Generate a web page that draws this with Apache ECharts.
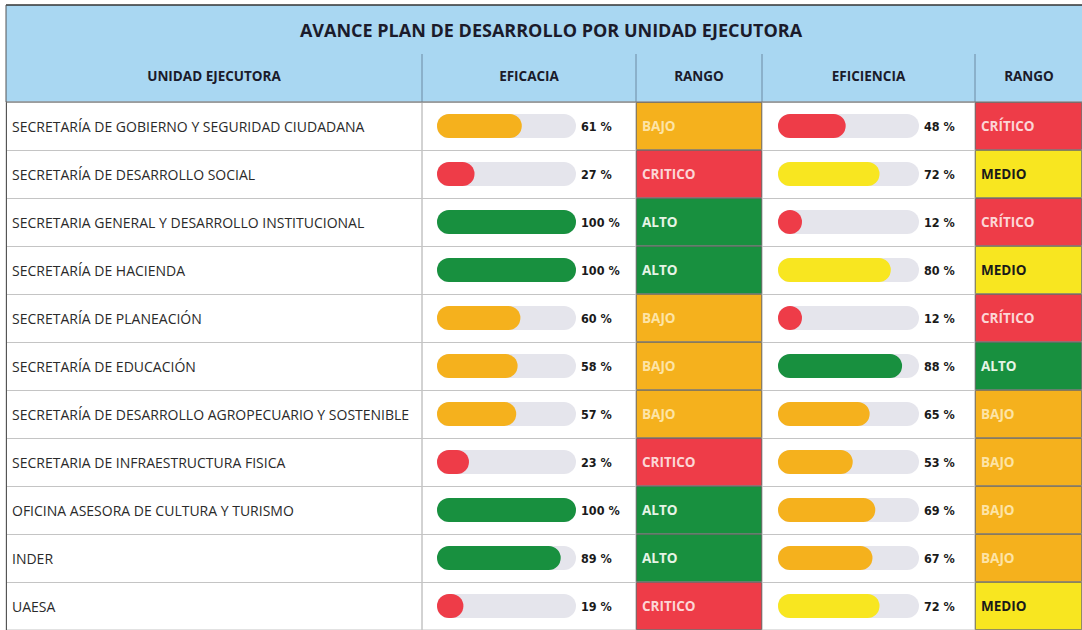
<!DOCTYPE html>
<html>
<head>
<meta charset="utf-8">
<script src="https://cdn.jsdelivr.net/npm/echarts@6/dist/echarts.min.js"></script>
<style>
html, body { margin: 0; padding: 0; background: #fff; }
#chart { width: 1082px; height: 630px; }
</style>
</head>
<body>
<div id="chart"></div>
<script>
var unidades = [
	"SECRETARÍA DE GOBIERNO Y SEGURIDAD CIUDADANA",
	"SECRETARÍA DE DESARROLLO SOCIAL",
	"SECRETARIA GENERAL Y DESARROLLO INSTITUCIONAL",
	"SECRETARÍA DE HACIENDA",
	"SECRETARÍA DE PLANEACIÓN",
	"SECRETARÍA DE EDUCACIÓN",
	"SECRETARÍA DE DESARROLLO AGROPECUARIO Y SOSTENIBLE",
	"SECRETARIA DE INFRAESTRUCTURA FISICA",
	"OFICINA ASESORA DE CULTURA Y TURISMO",
	"INDER",
	"UAESA"
];
var eficacia = [61, 27, 100, 100, 60, 58, 57, 23, 100, 89, 19];
var rangoEficacia = ["BAJO", "CRITICO", "ALTO", "ALTO", "BAJO", "BAJO", "BAJO", "CRITICO", "ALTO", "ALTO", "CRITICO"];
var eficiencia = [48, 72, 12, 80, 12, 88, 65, 53, 69, 67, 72];
var rangoEficiencia = ["CRÍTICO", "MEDIO", "CRÍTICO", "MEDIO", "CRÍTICO", "ALTO", "BAJO", "BAJO", "BAJO", "BAJO", "MEDIO"];
var columnas = ["UNIDAD EJECUTORA", "EFICACIA", "RANGO", "EFICIENCIA", "RANGO"];
var titulo = "AVANCE PLAN DE DESARROLLO POR UNIDAD EJECUTORA";

var colorRango = {
	"BAJO": "#f5b11d",
	"CRITICO": "#ee3c48",
	"CRÍTICO": "#ee3c48",
	"ALTO": "#18903f",
	"MEDIO": "#f8e620"
};
var textoRango = {
	"BAJO": "#fde4a6",
	"CRITICO": "#fcd6d6",
	"CRÍTICO": "#fcd6d6",
	"ALTO": "#e6f4e6",
	"MEDIO": "#1a1a1a"
};

// geometria de la tabla
var TOP = 102, ALTO_TABLA = 528;
var bordes = [6, 422, 636, 762, 975, 1083];
var FUENTE = "Open Sans";
var LINEA = "#c4c4c4";

var chart = echarts.init(document.getElementById("chart"), null, {renderer: "svg"});

var grids = [], xAxes = [], yAxes = [], series = [];

function addGrid(left, width, border){
	grids.push({
		left: left, top: TOP, width: width, height: ALTO_TABLA,
		show: border, borderColor: LINEA, borderWidth: 1, backgroundColor: "transparent"
	});
	return grids.length - 1;
}
function addAxes(idx, max, showLines){
	xAxes.push({gridIndex: idx, type: "value", min: 0, max: max, show: false});
	yAxes.push({
		gridIndex: idx, type: "category", data: unidades, inverse: true,
		axisLine: {show: false}, axisTick: {show: false}, axisLabel: {show: false},
		splitLine: {show: showLines, interval: 0, lineStyle: {color: LINEA, width: 1}}
	});
}

// columnas con bordes
for(var c = 0; c < 5; c++){
	var g = addGrid(bordes[c], bordes[c + 1] - bordes[c], true);
	addAxes(g, 1, true);
}
// etiqueta de unidades
yAxes[0].axisLine = {show: true, lineStyle: {color: "#555", width: 1}};
yAxes[0].axisLabel = {
	show: true, interval: 0, align: "left", margin: -6,
	fontFamily: FUENTE, fontSize: 14, color: "#2a2a2a"
};

// celdas de rango
function celdasRango(gridIdx, rangos){
	var datos = [];
	for(var i = 0; i < rangos.length; i++){
		datos.push({
			value: 1,
			itemStyle: {color: colorRango[rangos[i]]},
			label: {color: textoRango[rangos[i]]}
		});
	}
	series.push({
		type: "bar", xAxisIndex: gridIdx, yAxisIndex: gridIdx, data: datos,
		barWidth: "100%", silent: true,
		itemStyle: {borderColor: "rgba(70,70,70,0.55)", borderWidth: 1},
		label: {
			show: true, position: "insideLeft", distance: 6,
			formatter: function(p){ return rangos[p.dataIndex]; },
			fontFamily: FUENTE, fontSize: 13.5, fontWeight: "bold"
		}
	});
}
celdasRango(2, rangoEficacia);
celdasRango(4, rangoEficiencia);

// barras de progreso
function barras(left, width, valores, rangos){
	var g = addGrid(left, width, false);
	addAxes(g, 100, false);
	var fondo = [], datos = [];
	for(var i = 0; i < valores.length; i++){
		fondo.push(100);
		datos.push({value: valores[i], itemStyle: {color: colorRango[rangos[i]]}});
	}
	series.push({
		type: "bar", xAxisIndex: g, yAxisIndex: g, data: fondo,
		barWidth: 24, silent: true,
		itemStyle: {color: "#e5e5ec", borderRadius: 12},
		label: {
			show: true, position: "right", distance: 5,
			formatter: function(p){ return valores[p.dataIndex] + " %"; },
			fontFamily: "DejaVu Sans Condensed", fontSize: 12.5, fontWeight: "bold", color: "#1a1a1a"
		}
	});
	series.push({
		type: "bar", xAxisIndex: g, yAxisIndex: g, data: datos,
		barWidth: 24, barGap: "-100%", barMinHeight: 24, silent: true,
		itemStyle: {borderRadius: 12}
	});
}
barras(437, 139, eficacia, rangoEficacia);
barras(778, 141, eficiencia, rangoEficiencia);

// encabezado
var graficos = [
	{type: "rect", shape: {x: 6, y: 5, width: 1077, height: 97}, style: {fill: "#a9d7f2"}, z: -1},
	{type: "line", shape: {x1: 6, y1: 5, x2: 1083, y2: 5}, style: {stroke: "#333", lineWidth: 1.5}},
	{type: "line", shape: {x1: 6, y1: 5, x2: 6, y2: 102}, style: {stroke: "#555", lineWidth: 1}},
	{type: "line", shape: {x1: 6, y1: 102, x2: 1083, y2: 102}, style: {stroke: "#777", lineWidth: 1}, z: 10}
];
for(var k = 1; k < 5; k++){
	graficos.push({type: "line", shape: {x1: bordes[k], y1: 54, x2: bordes[k], y2: 102}, style: {stroke: "#6d8aa3", lineWidth: 1}});
}
for(var k = 0; k < columnas.length; k++){
	graficos.push({
		type: "text", x: (bordes[k] + bordes[k + 1]) / 2, y: 76,
		style: {
			text: columnas[k], fill: "#1b1b2b", align: "center", verticalAlign: "middle",
			font: "bold 13.5px '" + FUENTE + "'"
		}
	});
}

chart.setOption({
	animation: false,
	title: {
		text: titulo, left: 546, top: 16, textAlign: "center",
		textStyle: {fontFamily: FUENTE, fontSize: 18, fontWeight: "bold", color: "#1b1b2b"}
	},
	grid: grids,
	xAxis: xAxes,
	yAxis: yAxes,
	series: series,
	graphic: graficos
});
</script>
</body>
</html>
